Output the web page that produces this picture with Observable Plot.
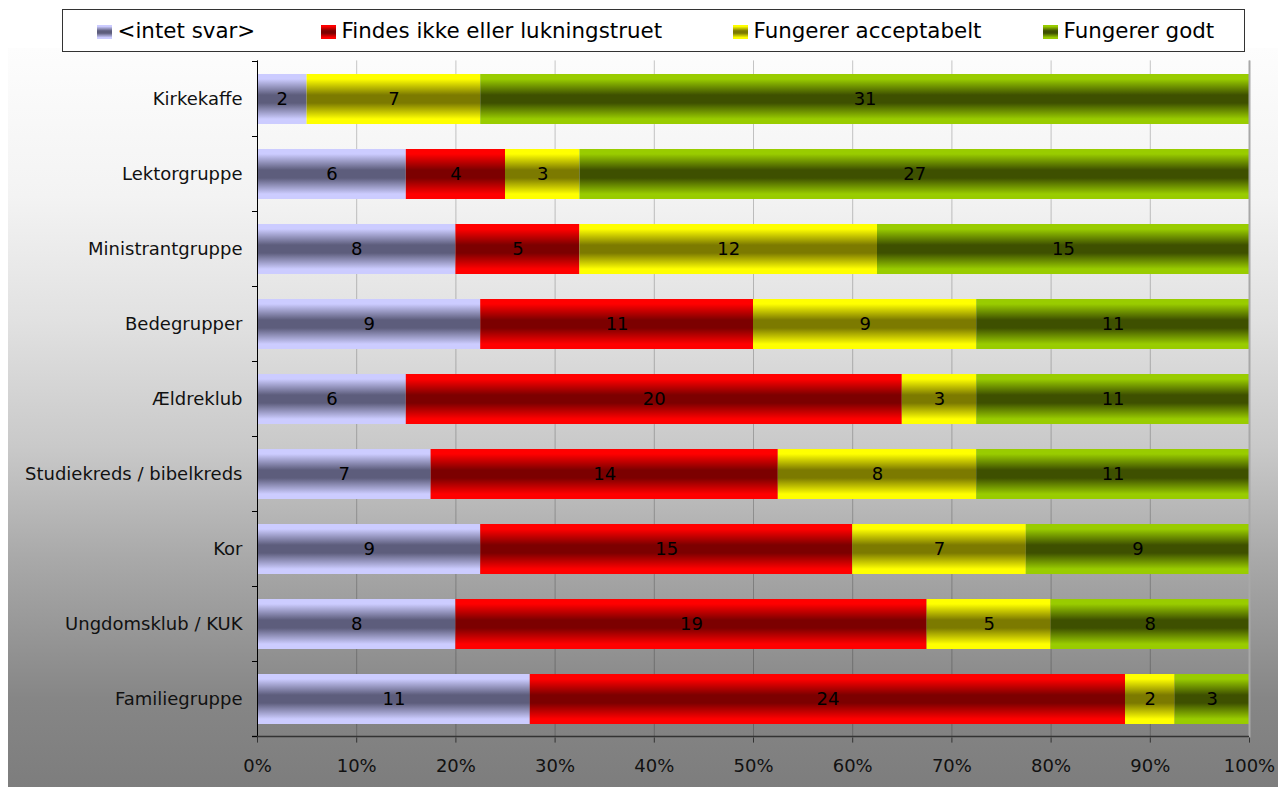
<!DOCTYPE html>
<html>
<head>
<meta charset="utf-8">
<script src="https://cdn.jsdelivr.net/npm/d3@7"></script>
<script src="https://cdn.jsdelivr.net/npm/@observablehq/plot@0.6"></script>
<style>
  body { margin: 0; background: #fff; }
  #root { position: relative; width: 1278px; height: 787px; overflow: hidden; background: #fff; font-family: "DejaVu Sans", Verdana, sans-serif; }
  #bg { position: absolute; left: 8px; top: 48px; width: 1270px; height: 739px;
        background: linear-gradient(to bottom, #fdfdfd 0%, #f3f3f3 20%, #e1e1e1 37%, #c9c9c9 54%, #a9a9a9 69%, #868686 88%, #7d7d7d 100%); }
  #legend { position: absolute; left: 62px; top: 9px; width: 1181px; height: 41px; border: 1.5px solid #333; background: #fff; }
  .item { position: absolute; top: 0; height: 41px; display: flex; align-items: center; font-size: 21.4px; color: #000; white-space: nowrap; }
  .sw { width: 15px; height: 14px; margin-right: 6px; margin-top: 3px; }
  #chart { position: absolute; left: 0; top: 48px; }
</style>
</head>
<body>
<svg width="0" height="0" style="position:absolute">
  <defs id="gdefs"></defs>
</svg>
<div id="root">
  <div id="bg"></div>
  <div id="legend"></div>
  <div id="chart"></div>
</div>
<script>
const categories = ["Kirkekaffe","Lektorgruppe","Ministrantgruppe","Bedegrupper","Ældreklub","Studiekreds / bibelkreds","Kor","Ungdomsklub / KUK","Familiegruppe"];
const series = ["<intet svar>","Findes ikke eller lukningstruet","Fungerer acceptabelt","Fungerer godt"];
const intetSvar   = [2, 6, 8, 9, 6, 7, 9, 8, 11];
const findesIkke  = [0, 4, 5, 11, 20, 14, 15, 19, 24];
const acceptabelt = [7, 3, 12, 9, 3, 8, 7, 5, 2];
const godt        = [31, 27, 15, 11, 11, 11, 9, 8, 3];
const xTicks = [0, 0.1, 0.2, 0.3, 0.4, 0.5, 0.6, 0.7, 0.8, 0.9, 1];
const lightColors = ["#ccccff", "#ff0000", "#ffff00", "#99cc00"];
const darkColors  = ["#5d5d7c", "#7c0000", "#7c7a00", "#3e5000"];
const legendX = [97, 321, 733, 1043];

const seriesValues = [intetSvar, findesIkke, acceptabelt, godt];
const rows = [];
series.forEach((s, si) => {
  categories.forEach((c, ci) => rows.push({category: c, series: s, value: seriesValues[si][ci]}));
});

// gradients
const defs = d3.select("#gdefs");
const gradIds = series.map((s, i) => "grad" + i);
gradIds.forEach((id, i) => {
  const g = defs.append("linearGradient").attr("id", id).attr("x1", 0).attr("y1", 0).attr("x2", 0).attr("y2", 1);
  [[0, lightColors[i]], [0.1, lightColors[i]], [0.42, darkColors[i]], [0.58, darkColors[i]], [0.9, lightColors[i]], [1, lightColors[i]]]
    .forEach(([o, c]) => g.append("stop").attr("offset", o).attr("stop-color", c));
});

// legend
const legend = d3.select("#legend");
series.forEach((s, i) => {
  const it = legend.append("div").attr("class", "item").style("left", (legendX[i] - 63.5) + "px");
  it.append("svg").attr("class", "sw").attr("width", 15).attr("height", 14)
    .append("rect").attr("width", 15).attr("height", 14).attr("fill", `url(#${gradIds[i]})`);
  it.append("span").text(s);
});

const W = 1278, H = 739;
const mL = 257, mR = 29, mT = 12.4, mB = 49.4;

const plot = Plot.plot({
  width: W, height: H,
  marginLeft: mL, marginRight: mR, marginTop: mT, marginBottom: mB,
  style: {background: "transparent", fontFamily: "'DejaVu Sans', Verdana, sans-serif", fontSize: "18px", color: "#000", overflow: "visible"},
  x: {domain: [0, 1], label: null},
  y: {domain: categories, paddingInner: 0.335, paddingOuter: 0.1675, label: null},
  color: {domain: series, range: gradIds.map(id => `url(#${id})`)},
  marks: [
    Plot.gridX(xTicks, {stroke: "#000", strokeOpacity: 0.22, strokeWidth: 1}),
    Plot.barX(rows, Plot.stackX({x: "value", y: "category", fill: "series", offset: "normalize"})),
    Plot.text(rows, Plot.stackX({x: "value", y: "category", z: "series", text: d => d.value > 0 ? String(d.value) : "", offset: "normalize", fill: "#000", fontSize: 18})),
    Plot.ruleX([1], {stroke: "#a8a8a8", strokeWidth: 2}),
    Plot.ruleX([0], {stroke: "#000", strokeWidth: 1}),
    Plot.axisX(xTicks, {tickFormat: d3.format(".0%"), tickSize: 5, tickPadding: 16, fontSize: 18, stroke: "#333", fill: "#111", label: null}),
    Plot.axisY({tickSize: 0, tickPadding: 15, fontSize: 18, fill: "#111", label: null})
  ]
});

document.getElementById("chart").appendChild(plot);

// axis decorations from the library's scales
const xs = plot.scale("x"), ys = plot.scale("y");
const x0 = xs.apply(0), x1 = xs.apply(1);
const step = ys.step;
const yTop = ys.apply(categories[0]) - (step - ys.bandwidth) / 2;
const svg = d3.select(plot);
const deco = svg.append("g");
const yBottom = yTop + step * categories.length;
deco.append("line").attr("x1", x0 - 5).attr("x2", x1).attr("y1", yBottom).attr("y2", yBottom).attr("stroke", "#333").attr("stroke-width", 1.5);
for (let i = 0; i <= categories.length; i++) {
  const yy = yTop + i * step;
  deco.append("line").attr("x1", x0 - 5).attr("x2", x0).attr("y1", yy).attr("y2", yy).attr("stroke", "#000");
}
</script>
</body>
</html>
